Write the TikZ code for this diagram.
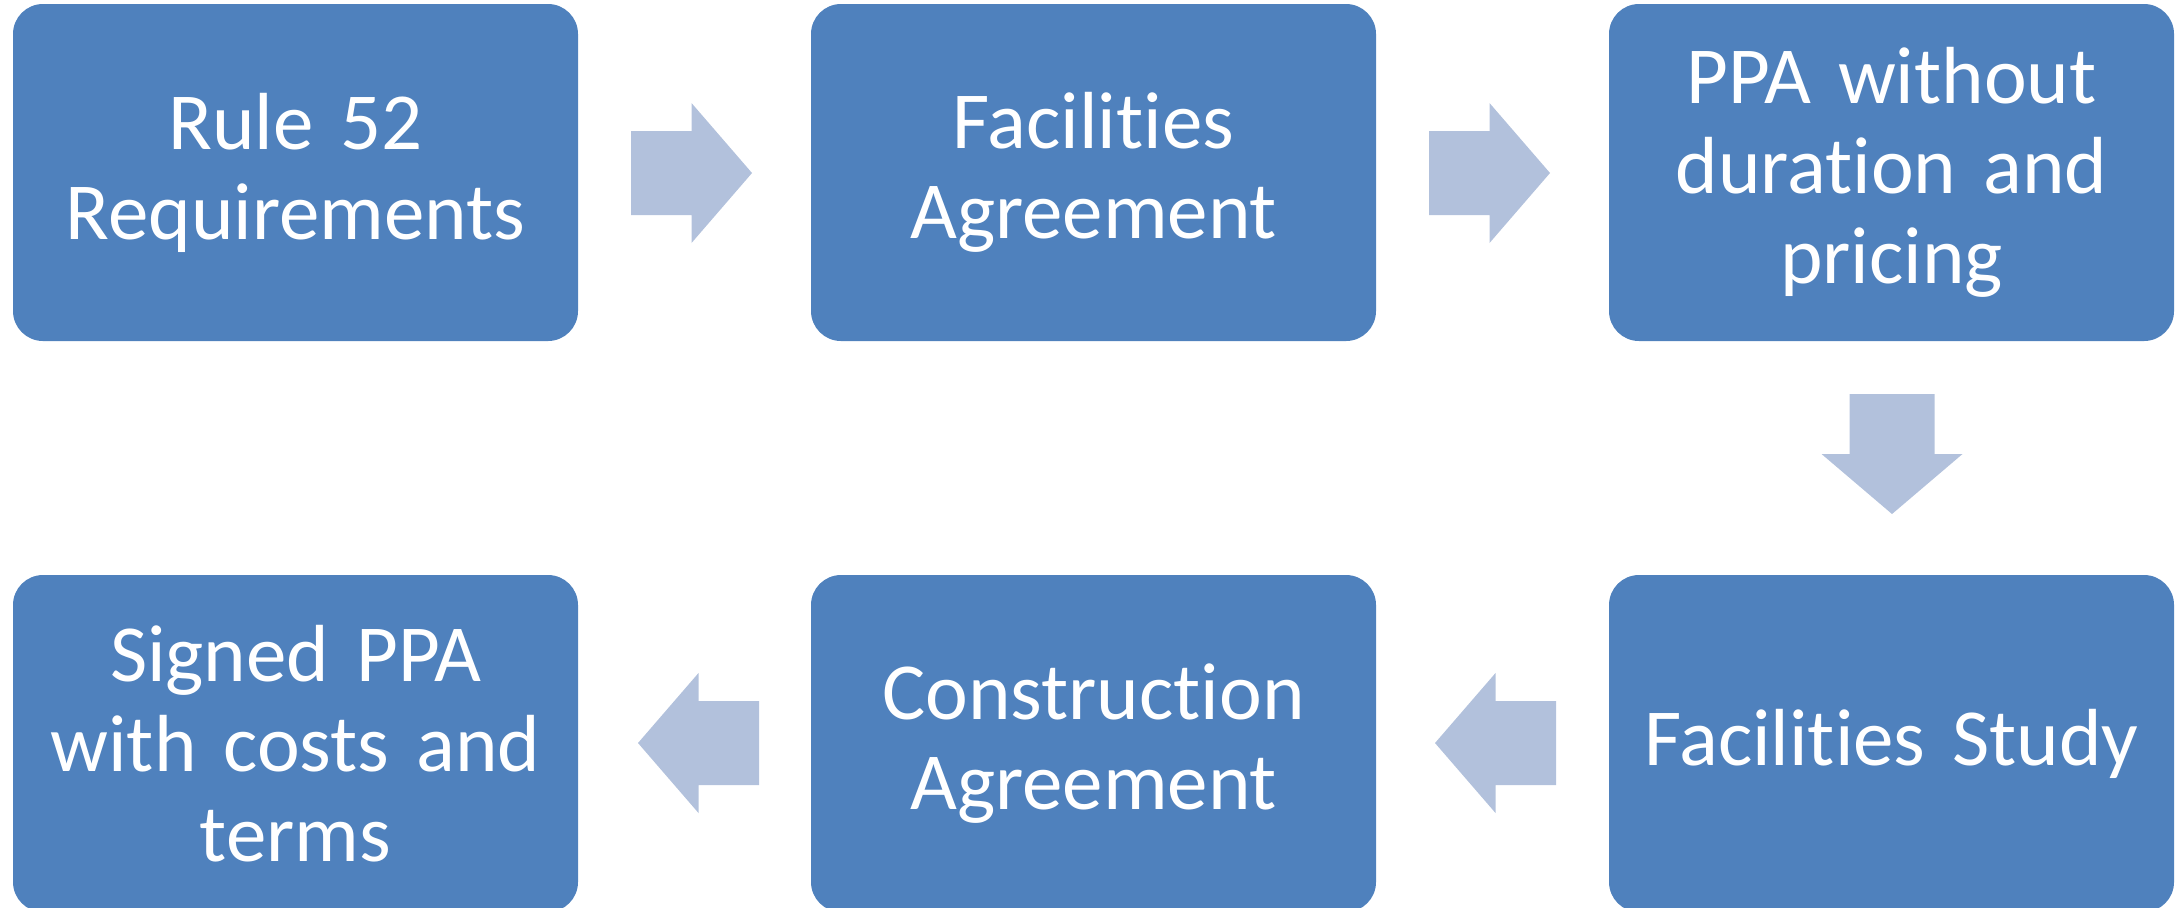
\documentclass[tikz,border=0pt]{standalone}
\usepackage{fontspec}
\setmainfont{Carlito}[Ligatures=NoCommon, WordSpace=0.85]
\definecolor{boxblue}{HTML}{4F81BD}
\definecolor{arrowfill}{HTML}{B2C1DC}
\begin{document}
\begin{tikzpicture}[x=0.5pt,y=-0.5pt,
  stepbox/.style={fill=boxblue, rounded corners=15pt, minimum width=282.5pt,
    minimum height=168.5pt, inner sep=0pt, text=white,
    font=\fontsize{40.5}{45}\selectfont, align=center, text width=270pt},
  blockarrow/.style={fill=arrowfill}]
\useasboundingbox (0,0) rectangle (2182,907);
\node[stepbox] (b1) at (295.5,172.5) {Rule 52\\Requirements};
\node[stepbox] (b2) at (1093.5,172.5) {Facilities\\Agreement};
\node[stepbox] (b3) at (1891.5,172.5) {PPA without\\duration and\\pricing};
\node[stepbox] (b4) at (1891.5,743.5) {Facilities Study};
\node[stepbox] (b5) at (1093.5,743.5) {Construction\\Agreement};
\node[stepbox] (b6) at (295.5,743.5) {Signed PPA\\with costs and\\terms};
% arrow anchor points between the boxes
\coordinate (a12) at (691.5,173);
\coordinate (a23) at (1489.5,173);
\coordinate (a34) at (1892,454);
\coordinate (a45) at (1495.5,743);
\coordinate (a56) at (698.5,743);
% right arrows
\foreach \c in {a12,a23}{
  \fill[blockarrow, shift={(\c)}] (-60.5,-42) -- (0,-42) -- (0,-70) -- (60.5,0)
    -- (0,70) -- (0,42) -- (-60.5,42) -- cycle;
}
% left arrows
\foreach \c in {a45,a56}{
  \fill[blockarrow, shift={(\c)}] (60.5,-42) -- (0,-42) -- (0,-70) -- (-60.5,0)
    -- (0,70) -- (0,42) -- (60.5,42) -- cycle;
}
% down arrow
\fill[blockarrow, shift={(a34)}] (-42.5,-60) -- (-42.5,0) -- (-70.5,0) -- (0,60)
  -- (70.5,0) -- (42.5,0) -- (42.5,-60) -- cycle;
\end{tikzpicture}
\end{document}
